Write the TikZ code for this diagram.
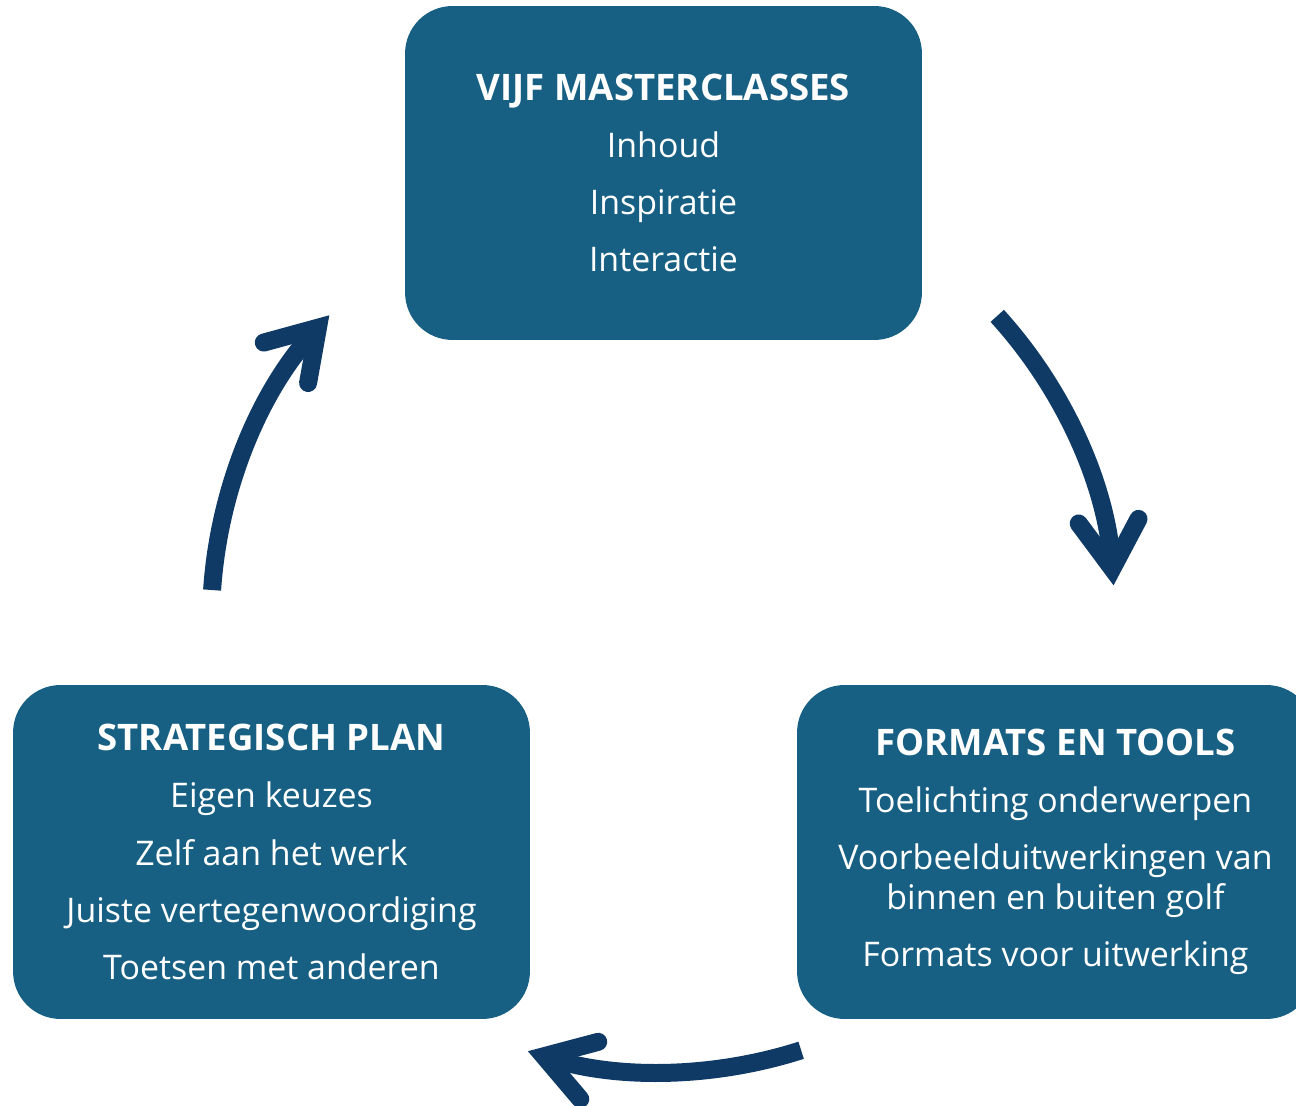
\documentclass[tikz,border=0pt]{standalone}
\usepackage{fontspec}
\setmainfont{Open Sans}
\usepackage{tikz}
\usetikzlibrary{arrows.meta, calc}
\definecolor{boxblue}{HTML}{176083}
\definecolor{arrownavy}{HTML}{0F3A65}
\newcommand{\stagetitle}[1]{{\fontsize{20.8pt}{22.8pt}\selectfont\bfseries #1}}

\begin{document}
\begin{tikzpicture}[
  x=0.02cm, y=0.02cm,
  box/.style={fill=boxblue, rounded corners=0.95cm, minimum width=10.34cm, minimum height=6.68cm, align=center, text=white, inner sep=0pt, font=\fontsize{19.3pt}{22.8pt}\selectfont},
  arrow/.style={arrownavy, line width=0.36cm, -{Straight Barb[length=0.95cm, width=1.2cm, line cap=round, line join=miter]}}
]
\useasboundingbox (0,0) rectangle (1296,1106);

% Top stage
\node[box] (masterclasses) at (663.5,933) {\stagetitle{VIJF MASTERCLASSES}\\[9.7pt]
  Inhoud\\[9.7pt]
  Inspiratie\\[9.7pt]
  Interactie};

% Right stage (runs off the page)
\node[box] (formats) at (1055.5,254) {\stagetitle{FORMATS EN TOOLS}\\[9.7pt]
  Toelichting onderwerpen\\[9.7pt]
  Voorbeelduitwerkingen van\\
  binnen en buiten golf\\[9.7pt]
  Formats voor uitwerking};

% Left stage
\node[box] (plan) at (271.5,254) {\stagetitle{STRATEGISCH PLAN}\\[9.7pt]
  Eigen keuzes\\[9.7pt]
  Zelf aan het werk\\[9.7pt]
  Juiste vertegenwoordiging\\[9.7pt]
  Toetsen met anderen};

% Cycle arrows on one circle
\coordinate (centre) at (663,486);
\coordinate (from1) at ($(centre)+(42.3:9.04cm)$);
\coordinate (from2) at ($(centre)+(-72.2:9.04cm)$);
\coordinate (from3) at ($(centre)+(176.2:9.04cm)$);

\draw[arrow] (from1) arc[start angle=42.3, end angle=4.4, radius=9.04cm];
\draw[arrow] (from2) arc[start angle=-72.2, end angle=-107.4, radius=9.04cm];
\draw[arrow] (from3) arc[start angle=176.2, end angle=137.6, radius=9.04cm];

\end{tikzpicture}
\end{document}
